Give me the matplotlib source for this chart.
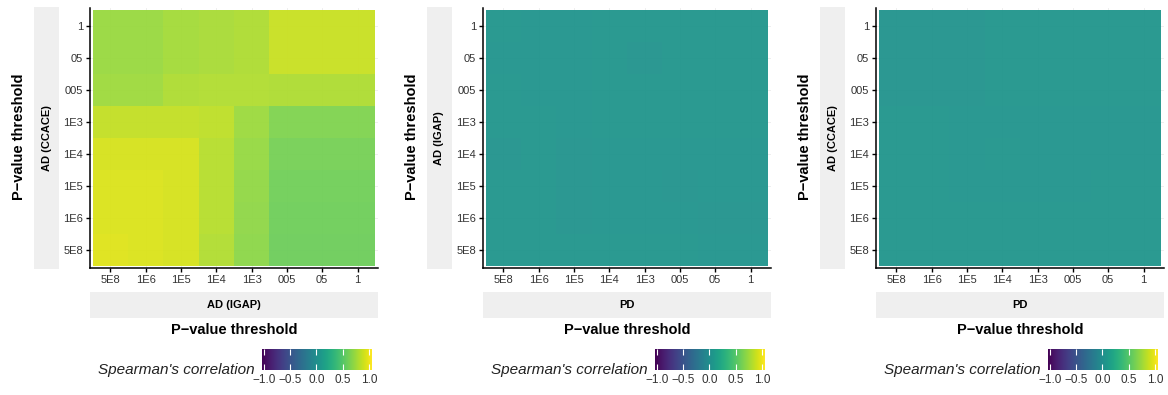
import numpy as np
import matplotlib.pyplot as plt

plt.rcParams['font.family'] = ['Liberation Sans', 'DejaVu Sans']

# thresholds (x: left -> right, y: bottom -> top)
umbrales = ['5E8', '1E6', '1E5', '1E4', '1E3', '005', '05', '1']

# correlation grids, rows listed top (1) to bottom (5E8), columns 5E8 .. 1
corr_igap_ccace = [
    [0.69, 0.69, 0.72, 0.74, 0.75, 0.83, 0.83, 0.83],
    [0.69, 0.69, 0.72, 0.74, 0.75, 0.83, 0.83, 0.83],
    [0.71, 0.71, 0.75, 0.76, 0.76, 0.75, 0.75, 0.75],
    [0.82, 0.82, 0.82, 0.80, 0.70, 0.61, 0.61, 0.61],
    [0.87, 0.87, 0.87, 0.78, 0.68, 0.58, 0.58, 0.58],
    [0.89, 0.89, 0.87, 0.78, 0.67, 0.57, 0.57, 0.57],
    [0.89, 0.89, 0.87, 0.78, 0.66, 0.56, 0.56, 0.56],
    [0.905, 0.89, 0.87, 0.76, 0.65, 0.55, 0.55, 0.55],
]
corr_pd_igap = [
    [0.04, 0.035, 0.035, 0.045, 0.045, 0.045, 0.045, 0.045],
    [0.035, 0.035, 0.035, 0.045, 0.03, 0.045, 0.045, 0.045],
    [0.04, 0.035, 0.035, 0.045, 0.04, 0.04, 0.04, 0.04],
    [0.04, 0.04, 0.035, 0.04, 0.04, 0.04, 0.04, 0.04],
    [0.03, 0.04, 0.03, 0.035, 0.035, 0.035, 0.035, 0.035],
    [0.04, 0.04, 0.03, 0.035, 0.035, 0.03, 0.035, 0.035],
    [0.04, 0.04, 0.03, 0.035, 0.035, 0.035, 0.03, 0.03],
    [0.04, 0.04, 0.04, 0.04, 0.045, 0.04, 0.035, 0.035],
]
corr_pd_ccace = [
    [0.03, 0.03, 0.03, 0.04, 0.04, 0.04, 0.04, 0.04],
    [0.03, 0.03, 0.03, 0.04, 0.04, 0.04, 0.04, 0.04],
    [0.03, 0.03, 0.03, 0.04, 0.04, 0.04, 0.04, 0.04],
    [0.04, 0.04, 0.035, 0.035, 0.035, 0.035, 0.035, 0.035],
    [0.04, 0.045, 0.035, 0.04, 0.035, 0.035, 0.035, 0.035],
    [0.04, 0.04, 0.035, 0.035, 0.035, 0.035, 0.04, 0.04],
    [0.04, 0.04, 0.04, 0.04, 0.04, 0.045, 0.045, 0.045],
    [0.04, 0.045, 0.04, 0.04, 0.04, 0.04, 0.04, 0.04],
]

paneles = [
    (corr_igap_ccace, 'AD (IGAP)', 'AD (CCACE)', 90),
    (corr_pd_igap, 'PD', 'AD (IGAP)', 483),
    (corr_pd_ccace, 'PD', 'AD (CCACE)', 876),
]

W, H = 1168, 395
fig = plt.figure(figsize=(W / 100, H / 100), dpi=100)


def caja(x0, y0, x1, y1):
    # pixel box (top-left origin) -> figure fraction rect
    return [x0 / W, 1 - y1 / H, (x1 - x0) / W, (y1 - y0) / H]


ticks_color = '#333333'
for datos, lab_x, lab_y, x0 in paneles:
    ax = fig.add_axes(caja(x0, 8, x0 + 288, 268))
    z = np.array(datos)[::-1]  # bottom row first
    ax.set_axisbelow(True)
    ax.grid(True, color='#ebebeb', lw=0.6)
    ax.pcolormesh(np.arange(9) - 0.5, np.arange(9) - 0.5, z, cmap='viridis',
                  vmin=-1, vmax=1, alpha=0.95, zorder=2)
    ax.set_xlim(-0.58, 7.58)
    ax.set_ylim(-0.55, 7.55)
    ax.set_xticks(range(8))
    ax.set_xticklabels(umbrales)
    ax.set_yticks(range(8))
    ax.set_yticklabels(umbrales)
    ax.tick_params(labelsize=8, labelcolor=ticks_color, length=3, width=1, pad=2)
    for s in ['top', 'right']:
        ax.spines[s].set_visible(False)
    for s in ['left', 'bottom']:
        ax.spines[s].set_linewidth(1.1)

    # strips
    sy = fig.add_axes(caja(x0 - 56, 7, x0 - 31, 269))
    sy.set_facecolor('#efefef')
    sy.set_xticks([]); sy.set_yticks([])
    for s in sy.spines.values():
        s.set_visible(False)
    sy.text(0.5, 0.5, lab_y, rotation=90, ha='center', va='center',
            fontsize=8, fontweight='bold', transform=sy.transAxes)

    sx = fig.add_axes(caja(x0, 292, x0 + 288, 318))
    sx.set_facecolor('#efefef')
    sx.set_xticks([]); sx.set_yticks([])
    for s in sx.spines.values():
        s.set_visible(False)
    sx.text(0.5, 0.5, lab_x, ha='center', va='center',
            fontsize=8, fontweight='bold', transform=sx.transAxes)

    fig.text((x0 - 71) / W, 1 - 137 / H, 'P\u2212value threshold', rotation=90,
             ha='center', va='center', fontsize=10.5, fontweight='bold')
    fig.text((x0 + 144) / W, 1 - 330 / H, 'P\u2212value threshold',
             ha='center', va='center', fontsize=10.5, fontweight='bold')

    # colorbar legend
    cb0 = x0 + 172
    cax = fig.add_axes(caja(cb0, 349, cb0 + 110, 370))
    grad = np.linspace(-1, 1, 256)[None, :]
    cax.imshow(grad, cmap='viridis', vmin=-1, vmax=1, aspect='auto',
               extent=(-1.04, 1.06, 0, 1))
    cax.set_xlim(-1.04, 1.06)
    cax.set_yticks([])
    cax.set_xticks([-1, -0.5, 0, 0.5, 1])
    cax.set_xticklabels(['\u22121.0', '\u22120.5', '0.0', '0.5', '1.0'])
    cax.tick_params(axis='x', direction='in', color='white', length=4, width=0.8,
                    top=True, labelsize=8.5, labelcolor=ticks_color, pad=3)
    for s in cax.spines.values():
        s.set_visible(False)
    fig.text((cb0 - 7) / W, 1 - 370 / H, "Spearman's correlation", ha='right',
             va='center', fontsize=11, style='italic', color='#222222')

fig.savefig('out.png', dpi=100)
